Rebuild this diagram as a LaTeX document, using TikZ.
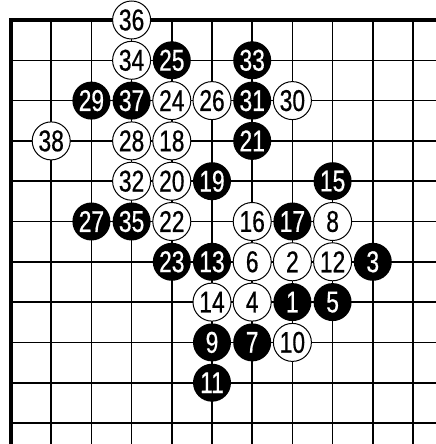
\documentclass[tikz,border=0pt]{standalone}
\usepackage{fontspec}
\newfontfamily\stonefont[FakeStretch=0.76,FakeBold=0.6]{Liberation Sans}
\begin{document}
\begin{tikzpicture}[
    x=40.2pt, y=-40.3pt,
    grid/.style={line width=1.6pt},
    edge/.style={line width=3.2pt, line join=miter},
    wstone/.style={circle, draw, line width=1pt, fill=white, minimum size=38pt, inner sep=0pt, font=\stonefont\fontsize{30}{30}\selectfont},
    bstone/.style={circle, fill=black, text=white, minimum size=38pt, inner sep=0pt, font=\stonefont\fontsize{30}{30}\selectfont}
]
    % Frame of the picture (board corner sits near the top left)
    \clip (-0.2736,-0.4963) rectangle (10.572,10.521);
    \fill[white] (-0.2736,-0.4963) rectangle (10.572,10.521);

    % Grid lines
    \foreach \i in {1,...,10} {
        \draw[grid] (\i,0) -- (\i,11);
        \draw[grid] (0,\i) -- (11,\i);
    }
    % Board edges
    \draw[edge] (0,11) -- (0,0) -- (11,0);

    % Stones, row by row
    \node[wstone] (s36) at (3,0) {36};

    \node[wstone] (s34) at (3,1) {34};
    \node[bstone] (s25) at (4,1) {25};
    \node[bstone] (s33) at (6,1) {33};

    \node[bstone] (s29) at (2,2) {29};
    \node[bstone] (s37) at (3,2) {37};
    \node[wstone] (s24) at (4,2) {24};
    \node[wstone] (s26) at (5,2) {26};
    \node[bstone] (s31) at (6,2) {31};
    \node[wstone] (s30) at (7,2) {30};

    \node[wstone] (s38) at (1,3) {38};
    \node[wstone] (s28) at (3,3) {28};
    \node[wstone] (s18) at (4,3) {18};
    \node[bstone] (s21) at (6,3) {21};

    \node[wstone] (s32) at (3,4) {32};
    \node[wstone] (s20) at (4,4) {20};
    \node[bstone] (s19) at (5,4) {19};
    \node[bstone] (s15) at (8,4) {15};

    \node[bstone] (s27) at (2,5) {27};
    \node[bstone] (s35) at (3,5) {35};
    \node[wstone] (s22) at (4,5) {22};
    \node[wstone] (s16) at (6,5) {16};
    \node[bstone] (s17) at (7,5) {17};
    \node[wstone] (s8) at (8,5) {8};

    \node[bstone] (s23) at (4,6) {23};
    \node[bstone] (s13) at (5,6) {13};
    \node[wstone] (s6) at (6,6) {6};
    \node[wstone] (s2) at (7,6) {2};
    \node[wstone] (s12) at (8,6) {12};
    \node[bstone] (s3) at (9,6) {3};

    \node[wstone] (s14) at (5,7) {14};
    \node[wstone] (s4) at (6,7) {4};
    \node[bstone] (s1) at (7,7) {1};
    \node[bstone] (s5) at (8,7) {5};

    \node[bstone] (s9) at (5,8) {9};
    \node[bstone] (s7) at (6,8) {7};
    \node[wstone] (s10) at (7,8) {10};

    \node[bstone] (s11) at (5,9) {11};
\end{tikzpicture}
\end{document}
